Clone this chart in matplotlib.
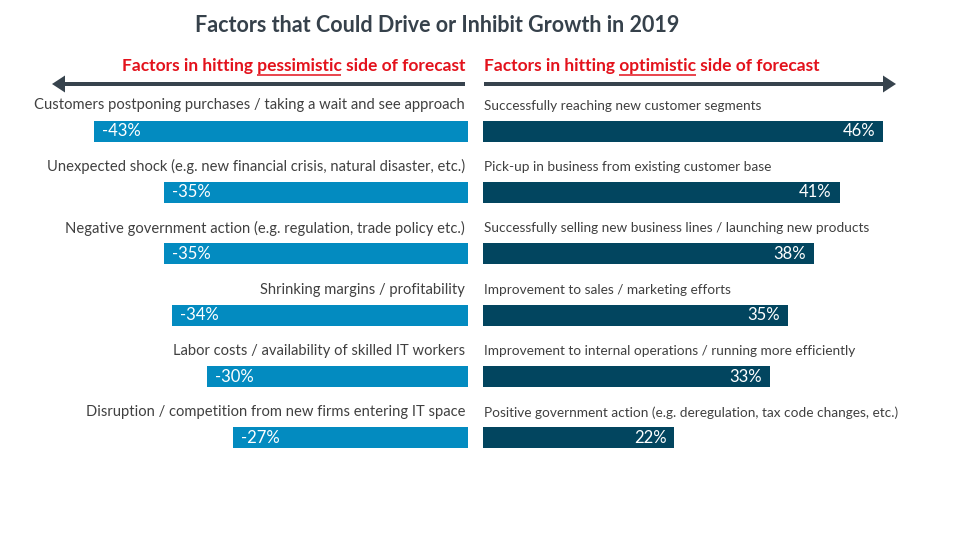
import matplotlib.pyplot as plt
from matplotlib.patches import FancyArrow

# ---- data ----
neg_labels = [
    'Customers postponing purchases / taking a wait and see approach',
    'Unexpected shock (e.g. new financial crisis, natural disaster, etc.)',
    'Negative government action (e.g. regulation, trade policy etc.)',
    'Shrinking margins / profitability',
    'Labor costs / availability of skilled IT workers',
    'Disruption / competition from new firms entering IT space',
]
neg_values = [-43, -35, -35, -34, -30, -27]

pos_labels = [
    'Successfully reaching new customer segments',
    'Pick-up in business from existing customer base',
    'Successfully selling new business lines / launching new products',
    'Improvement to sales / marketing efforts',
    'Improvement to internal operations / running more efficiently',
    'Positive government action (e.g. deregulation, tax code changes, etc.)',
]
pos_values = [46, 41, 38, 35, 33, 22]

title = 'Factors that Could Drive or Inhibit Growth in 2019'

NEG_COLOR = '#038bc0'
POS_COLOR = '#02455f'
ARROW_COLOR = '#37434d'
RED = '#e3121c'
TEXT_COLOR = '#404040'
FONT = ['Lato', 'DejaVu Sans']

W, H = 960, 540
PX_PER_PCT = 8.7
plt.rcParams['font.family'] = FONT

fig = plt.figure(figsize=(9.6, 5.4), dpi=100)
fig.patch.set_facecolor('white')

# overlay axes in pixel coords for arrows / headings
bg = fig.add_axes([0, 0, 1, 1])
bg.set_xlim(0, W)
bg.set_ylim(H, 0)
bg.axis('off')

# bars: rows share pixel layout (row 0 centered at y=131, step 61.4)
row_top, row_step = 131, 61.4
n = len(neg_values)
y_top_px = row_top - row_step / 2
y_bot_px = row_top + row_step * (n - 0.5)
ax_h = (y_bot_px - y_top_px) / H
ax_y = 1 - y_bot_px / H

left_edge, right_edge = 468, 483
axl = fig.add_axes([0, ax_y, left_edge / W, ax_h])
axr = fig.add_axes([right_edge / W, ax_y, (W - right_edge) / W, ax_h])
axl.set_xlim(-left_edge / PX_PER_PCT, 0)
axr.set_xlim(0, (W - right_edge) / PX_PER_PCT)
for ax in (axl, axr):
    ax.set_ylim(n - 0.5, -0.5)
    ax.axis('off')

ypos = list(range(n))
bar_h = 21 / row_step
axl.barh(ypos, neg_values, height=bar_h, color=NEG_COLOR)
axr.barh(ypos, pos_values, height=bar_h, color=POS_COLOR)

pad = 8 / PX_PER_PCT
label_off = 25.5 / row_step
for i, v in enumerate(neg_values):
    axl.text(v + pad, i, f'{v}%', color='white', fontsize=12,
             ha='left', va='center')
    axl.text(-3 / PX_PER_PCT, i - label_off, neg_labels[i], color=TEXT_COLOR,
             fontsize=10.6, ha='right', va='center')
for i, v in enumerate(pos_values):
    axr.text(v - pad, i, f'{v}%', color='white', fontsize=12,
             ha='right', va='center')
    axr.text(1 / PX_PER_PCT, i - label_off, pos_labels[i], color=TEXT_COLOR,
             fontsize=9.8, ha='left', va='center')

# title
bg.text(437, 26, title, fontsize=15.5, fontweight='bold', color='#36414b',
        ha='center', va='center')

# arrows
bg.add_patch(FancyArrow(465, 84, -413, 0, width=4, head_width=17, head_length=13,
                        length_includes_head=True, color=ARROW_COLOR, lw=0))
bg.add_patch(FancyArrow(484, 84, 412, 0, width=4, head_width=17, head_length=13,
                        length_includes_head=True, color=ARROW_COLOR, lw=0))

# red headings with one underlined word
fig.canvas.draw()
renderer = fig.canvas.get_renderer()


def heading(x, y, pre, word, post, ha):
    full = pre + word + post
    t = bg.text(x, y, full, fontsize=12.5, fontweight='bold', color=RED,
                ha=ha, va='center')
    fig.canvas.draw()
    bb = t.get_window_extent(renderer)
    prop = t.get_fontproperties()
    w_pre_word = renderer.get_text_width_height_descent(pre + word, prop, ismath=False)[0]
    w_word = renderer.get_text_width_height_descent(word, prop, ismath=False)[0]
    ux1 = bb.x0 + w_pre_word
    ux0 = ux1 - w_word
    bg.plot([ux0, ux1], [y + 8.5, y + 8.5], color=RED, lw=1.1, solid_capstyle='butt')


heading(465, 66, 'Factors in hitting ', 'pessimistic', ' side of forecast', 'right')
heading(484, 66, 'Factors in hitting ', 'optimistic', ' side of forecast', 'left')

fig.savefig('out.png', dpi=100, facecolor='white')
